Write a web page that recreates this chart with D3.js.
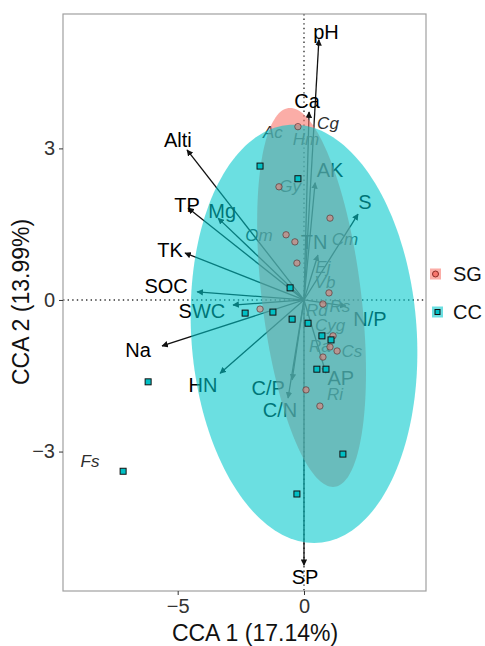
<!DOCTYPE html>
<html>
<head>
<meta charset="utf-8">
<script src="https://cdn.jsdelivr.net/npm/d3@7"></script>
<style>
  body { margin: 0; background: #fff; }
  svg { display: block; }
  text { font-family: "Liberation Sans", Arial, sans-serif; }
</style>
</head>
<body>
<svg id="chart" width="485" height="646"></svg>
<script>
// Site scores, group SG (circles)
const sgX = [-0.24, -0.99, 1.03, -0.71, -0.36, -0.28, 0.99, 0.75, -1.74, 1.15, 1.03, 1.31, 0.75, 0.08, 0.63];
const sgY = [3.43, 2.24, 1.62, 1.29, 1.15, 0.73, 0.14, -0.08, -0.18, -0.71, -0.93, -1.01, -1.13, -1.78, -2.10];

// Site scores, group CC (squares)
const ccX = [-1.74, -0.24, -0.55, -1.23, -2.33, -0.47, 0.16, 0.71, 1.07, 0.51, 0.87, 1.54, -0.28, -6.17, -7.16];
const ccY = [2.65, 2.40, 0.24, -0.24, -0.26, -0.38, -0.46, -0.71, -0.79, -1.37, -1.37, -3.05, -3.84, -1.62, -3.39];

// Environmental variable vectors (arrow tips)
const envNames = ["pH", "Ca", "AK", "S", "TN", "Alti", "TP", "Mg", "TK", "SOC", "SWC", "Na", "HN", "C/P", "C/N", "N/P", "AP", "SP"];
const envX = [0.59, 0.20, 0.44, 2.14, 0.55, -4.63, -4.59, -3.40, -4.71, -4.23, -2.81, -5.62, -3.32, -0.47, -0.63, 1.66, 0.87, 0.00];
const envY = [5.15, 3.72, 2.32, 1.70, 0.89, 2.97, 1.82, 1.62, 0.93, 0.16, -0.10, -0.91, -1.45, -1.58, -1.94, -0.12, -1.45, -5.25];
// Where each variable name sits (data units)
const envLabelX = [0.87, 0.12, 1.03, 2.41, 0.40, -4.99, -4.63, -3.24, -5.30, -5.46, -4.04, -6.57, -4.00, -1.42, -0.95, 2.61, 1.46, 0.04];
const envLabelY = [5.31, 3.94, 2.57, 1.94, 1.15, 3.17, 1.88, 1.76, 0.99, 0.28, -0.22, -0.99, -1.68, -1.74, -2.18, -0.38, -1.54, -5.49];

// Species scores
const spNames = ["Cg", "Ac", "Hm", "Gy", "Om", "Cm", "Ej", "Vb", "Rs", "Rd", "Cyg", "Ra", "Cs", "Ri", "Fs"];
const spX = [0.95, -1.23, 0.08, -0.55, -1.78, 1.62, 0.75, 0.83, 1.42, 0.51, 1.03, 0.63, 1.90, 1.23, -8.47];
const spY = [3.50, 3.31, 3.17, 2.24, 1.27, 1.19, 0.65, 0.34, -0.12, -0.20, -0.50, -0.93, -1.01, -1.88, -3.19];

// Group ellipses: centre [x, y] and shape [a, b, d]:
// x = cx + a*cos(t) + b*sin(t), y = cy + d*sin(t)
const ellipseCentreSG = [0.30, 0.05];
const ellipseShapeSG = [1.98, -0.85, 3.75];
const ellipseCentreCC = [0.00, -0.67];
const ellipseShapeCC = [4.47, -0.40, 4.14];

// Axes
const xDomain = [-9.54, 4.83];
const yDomain = [-5.76, 5.66];
const xTicks = [-5, 0];
const yTicks = [-3, 0, 3];
const groupNames = ["SG", "CC"];

const svg = d3.select("#chart");
const panel = { left: 63, right: 426, top: 14, bottom: 591 };

const x = d3.scaleLinear().domain(xDomain).range([panel.left, panel.right]);
const y = d3.scaleLinear().domain(yDomain).range([panel.bottom, panel.top]);

const pink = "#F8766D";
const teal = "#00BFC4";

const defs = svg.append("defs");
defs.append("clipPath").attr("id", "panelClip")
  .append("rect")
  .attr("x", panel.left).attr("y", panel.top)
  .attr("width", panel.right - panel.left).attr("height", panel.bottom - panel.top);

defs.append("marker")
  .attr("id", "head")
  .attr("viewBox", "0 0 10 10")
  .attr("refX", 9).attr("refY", 5)
  .attr("markerWidth", 6.5).attr("markerHeight", 6.5)
  .attr("markerUnits", "userSpaceOnUse")
  .attr("orient", "auto")
  .append("path").attr("d", "M0,0 L10,5 L0,10 Z").attr("fill", "#111");

const plot = svg.append("g").attr("clip-path", "url(#panelClip)");

// Reference lines through the origin
plot.append("line")
  .attr("x1", x(0)).attr("x2", x(0)).attr("y1", panel.top).attr("y2", panel.bottom)
  .attr("stroke", "#333").attr("stroke-width", 1.4).attr("stroke-dasharray", "1.4,3.2");
plot.append("line")
  .attr("y1", y(0)).attr("y2", y(0)).attr("x1", panel.left).attr("x2", panel.right)
  .attr("stroke", "#333").attr("stroke-width", 1.4).attr("stroke-dasharray", "1.4,3.2");

// Environmental arrows
const envIdx = d3.range(envNames.length);
plot.append("g").selectAll("line").data(envIdx).join("line")
  .attr("x1", x(0)).attr("y1", y(0))
  .attr("x2", i => x(envX[i])).attr("y2", i => y(envY[i]))
  .attr("stroke", "#111").attr("stroke-width", 1.3)
  .attr("marker-end", "url(#head)");

plot.append("g").selectAll("text").data(envIdx).join("text")
  .attr("x", i => x(envLabelX[i])).attr("y", i => y(envLabelY[i]))
  .attr("text-anchor", "middle").attr("dominant-baseline", "central")
  .attr("font-size", 20).attr("fill", "#000")
  .text(i => envNames[i]);

// Species names
const spIdx = d3.range(spNames.length);
plot.append("g").selectAll("text").data(spIdx).join("text")
  .attr("x", i => x(spX[i])).attr("y", i => y(spY[i]))
  .attr("text-anchor", "middle").attr("dominant-baseline", "central")
  .attr("font-size", 17).attr("font-style", "italic").attr("fill", "#2e2e2e")
  .text(i => spNames[i]);

// Group ellipses
function ellipsePath(c, s) {
  const pts = d3.range(0, 2 * Math.PI, Math.PI / 90).map(t => [
    x(c[0] + s[0] * Math.cos(t) + s[1] * Math.sin(t)),
    y(c[1] + s[2] * Math.sin(t))
  ]);
  return d3.line().curve(d3.curveLinearClosed)(pts);
}
plot.append("path").attr("d", ellipsePath(ellipseCentreSG, ellipseShapeSG))
  .attr("fill", pink).attr("fill-opacity", 0.6);
plot.append("path").attr("d", ellipsePath(ellipseCentreCC, ellipseShapeCC))
  .attr("fill", "#00C8CC").attr("fill-opacity", 0.58);

// Site points
plot.append("g").selectAll("circle").data(d3.range(sgX.length)).join("circle")
  .attr("cx", i => x(sgX[i])).attr("cy", i => y(sgY[i])).attr("r", 3.2)
  .attr("fill", pink).attr("fill-opacity", 0.55)
  .attr("stroke", "#5a4040").attr("stroke-opacity", 0.75).attr("stroke-width", 1);

const sq = 6;
plot.append("g").selectAll("rect").data(d3.range(ccX.length)).join("rect")
  .attr("x", i => x(ccX[i]) - sq / 2).attr("y", i => y(ccY[i]) - sq / 2)
  .attr("width", sq).attr("height", sq)
  .attr("fill", teal).attr("stroke", "#111").attr("stroke-width", 1);

// Panel border
svg.append("rect")
  .attr("x", panel.left).attr("y", panel.top)
  .attr("width", panel.right - panel.left).attr("height", panel.bottom - panel.top)
  .attr("fill", "none").attr("stroke", "#a0a0a0").attr("stroke-width", 1.2);

// Axes
const xAxis = svg.append("g").attr("transform", `translate(0,${panel.bottom})`)
  .call(d3.axisBottom(x).tickValues(xTicks).tickSize(4).tickPadding(4));
const yAxis = svg.append("g").attr("transform", `translate(${panel.left},0)`)
  .call(d3.axisLeft(y).tickValues(yTicks).tickSize(4).tickPadding(4));
[xAxis, yAxis].forEach(g => {
  g.select(".domain").remove();
  g.selectAll(".tick line").attr("stroke", "#333");
  g.selectAll(".tick text").attr("fill", "#333").attr("font-size", 20)
    .attr("font-family", "Liberation Sans, Arial, sans-serif");
});

// Axis titles
svg.append("text")
  .attr("x", 255).attr("y", 641)
  .attr("text-anchor", "middle").attr("font-size", 23).attr("fill", "#111")
  .text("CCA 1 (17.14%)");
svg.append("text")
  .attr("transform", `translate(29,302) rotate(-90)`)
  .attr("text-anchor", "middle").attr("font-size", 23).attr("fill", "#111")
  .text("CCA 2 (13.99%)");

// Legend
const legend = svg.append("g");
const keyY = [274, 312];
legend.append("rect").attr("x", 430).attr("y", keyY[0] - 5.5).attr("width", 11).attr("height", 11)
  .attr("fill", pink).attr("fill-opacity", 0.6);
legend.append("circle").attr("cx", 435.5).attr("cy", keyY[0]).attr("r", 3)
  .attr("fill", pink).attr("stroke", "#8b2a24").attr("stroke-width", 1);
legend.append("rect").attr("x", 432).attr("y", keyY[1] - 5.5).attr("width", 11).attr("height", 11)
  .attr("fill", "#00C8CC").attr("fill-opacity", 0.58);
legend.append("rect").attr("x", 435).attr("y", keyY[1] - 2.5).attr("width", 5).attr("height", 5)
  .attr("fill", teal).attr("stroke", "#111").attr("stroke-width", 1);
legend.selectAll("text.lab").data(groupNames).join("text")
  .attr("class", "lab")
  .attr("x", 453).attr("y", (d, i) => keyY[i])
  .attr("dominant-baseline", "central").attr("font-size", 20).attr("fill", "#111")
  .text(d => d);
</script>
</body>
</html>
